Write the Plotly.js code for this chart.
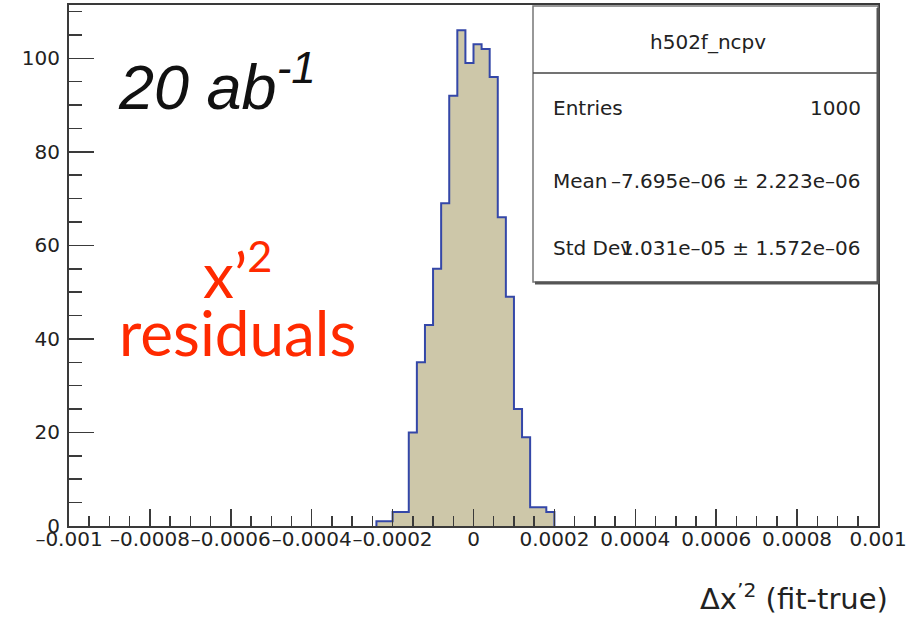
<!DOCTYPE html>
<html>
<head>
<meta charset="utf-8">
<script src="https://cdn.plot.ly/plotly-3.0.1.min.js"></script>
<style>html,body{margin:0;padding:0;background:#fff;}#chart{width:908px;height:617px;}</style>
</head>
<body>
<div id="chart"></div>
<script>
// ---- data ----
const binLowEdges = [-0.00024, -0.00022, -0.0002, -0.00018, -0.00016, -0.00014, -0.00012, -0.0001,
                     -0.00008, -0.00006, -0.00004, -0.00002, 0, 0.00002, 0.00004, 0.00006,
                     0.00008, 0.0001, 0.00012, 0.00014, 0.00016, 0.00018];
const binWidth = 0.00002;
const counts = [1, 1, 3, 3, 20, 35, 43, 55, 69, 92, 106, 99, 103, 102, 96, 66, 49, 25, 19, 4, 4, 3];

const xTickVals = [-0.001, -0.0008, -0.0006, -0.0004, -0.0002, 0, 0.0002, 0.0004, 0.0006, 0.0008, 0.001];
const xTickLabels = ["\u20130.001", "\u20130.0008", "\u20130.0006", "\u20130.0004", "\u20130.0002", "0",
                     "0.0002", "0.0004", "0.0006", "0.0008", "0.001"];
const yTickVals = [0, 20, 40, 60, 80, 100];
const yTickLabels = ["0", "20", "40", "60", "80", "100"];

const histName = "h502f_ncpv";
const statLabels = ["Entries", "Mean", "Std Dev"];
const statValues = ["1000", "\u20137.695e\u201306 \u00b1 2.223e\u201306", "1.031e\u201305 \u00b1 1.572e\u201306"];

// ---- build step outline from bins ----
const stepX = [binLowEdges[0]];
const stepY = [0];
for (let i = 0; i < counts.length; i++) { stepX.push(binLowEdges[i]); stepY.push(counts[i]); }
stepX.push(binLowEdges[binLowEdges.length - 1] + binWidth);
stepY.push(0);

// ---- layout geometry helpers (pixels -> paper) ----
const W = 908, H = 617;
const M = {l: 69, r: 30, t: 5, b: 91};
const PW = W - M.l - M.r, PH = H - M.t - M.b;
const px = v => (v - M.l) / PW;
const py = v => (H - M.b - v) / PH;

const axisCol = '#3a3a3a';
const txtCol = '#222';
const rootFont = 'DejaVu Sans, sans-serif';

const trace = {
  type: 'scatter', mode: 'lines', x: stepX, y: stepY,
  line: {shape: 'hv', color: '#3447a8', width: 2},
  fill: 'tozeroy', fillcolor: '#cdc7a9', hoverinfo: 'skip', showlegend: false
};

const shapes = [
  {type: 'rect', xref: 'paper', yref: 'paper', x0: px(533), x1: px(878), y0: py(282), y1: py(6),
   line: {color: '#777', width: 1.5}, fillcolor: '#fff', layer: 'above'},
  {type: 'line', xref: 'paper', yref: 'paper', x0: px(533), x1: px(878), y0: py(73), y1: py(73),
   line: {color: '#444', width: 1.5}, layer: 'above'},
  {type: 'line', xref: 'paper', yref: 'paper', x0: px(878), x1: px(878), y0: py(284), y1: py(8),
   line: {color: '#555', width: 3}, layer: 'above'},
  {type: 'line', xref: 'paper', yref: 'paper', x0: px(535), x1: px(878), y0: py(283), y1: py(283),
   line: {color: '#555', width: 3}, layer: 'above'}
];

const statFont = {family: rootFont, size: 20, color: txtCol};
const statY = [108, 181, 248];
const annotations = [
  {xref: 'paper', yref: 'paper', x: px(708), y: py(42), xanchor: 'center', yanchor: 'middle',
   text: histName, showarrow: false, font: statFont}
];
for (let i = 0; i < statLabels.length; i++) {
  annotations.push({xref: 'paper', yref: 'paper', x: px(551), y: py(statY[i]), xanchor: 'left', yanchor: 'middle',
    text: statLabels[i], showarrow: false, font: statFont});
  annotations.push({xref: 'paper', yref: 'paper', x: px(863), y: py(statY[i]), xanchor: 'right', yanchor: 'middle',
    text: statValues[i], showarrow: false, font: statFont});
}
annotations.push({xref: 'paper', yref: 'paper', x: px(116), y: py(82), xanchor: 'left', yanchor: 'middle',
  text: '<i>20 ab<sup>-1</sup></i>', showarrow: false,
  font: {family: 'Liberation Sans, Arial, sans-serif', size: 63, color: '#111'}});
annotations.push({xref: 'paper', yref: 'paper', x: px(237), y: py(270), xanchor: 'center', yanchor: 'middle',
  text: 'x\u2019<sup>2</sup>', showarrow: false,
  font: {family: 'Lato, sans-serif', size: 62, color: '#ff2a00'}});
annotations.push({xref: 'paper', yref: 'paper', x: px(237), y: py(332), xanchor: 'center', yanchor: 'middle',
  text: 'residuals', showarrow: false,
  font: {family: 'Lato, sans-serif', size: 62, color: '#ff2a00'}});
annotations.push({xref: 'paper', yref: 'paper', x: px(890), y: py(597), xanchor: 'right', yanchor: 'middle',
  text: '\u0394x<sup>\u20192</sup> (fit-true)', showarrow: false,
  font: {family: rootFont, size: 29, color: txtCol}});

const layout = {
  width: W, height: H,
  margin: {l: M.l, r: M.r, t: M.t, b: M.b, pad: 0},
  paper_bgcolor: '#fff', plot_bgcolor: '#fff',
  showlegend: false,
  xaxis: {
    range: [-0.001, 0.001], tickmode: 'array', tickvals: xTickVals, ticktext: xTickLabels,
    tickangle: 0,
    ticks: 'inside', ticklen: 17, tickwidth: 1.5, tickcolor: axisCol,
    showline: true, linecolor: axisCol, linewidth: 2, mirror: true,
    showgrid: false, zeroline: false, ticklabelstandoff: -6,
    tickfont: {family: rootFont, size: 20, color: txtCol},
    minor: {tick0: 0, dtick: 0.00005, ticks: 'inside', ticklen: 10, tickwidth: 1.5, tickcolor: axisCol, showgrid: false}
  },
  yaxis: {
    range: [0, 111.4], tickmode: 'array', tickvals: yTickVals, ticktext: yTickLabels,
    ticks: 'inside', ticklen: 25, tickwidth: 1.5, tickcolor: axisCol,
    showline: true, linecolor: axisCol, linewidth: 2, mirror: true,
    showgrid: false, zeroline: false, ticklabelstandoff: 3,
    tickfont: {family: rootFont, size: 20, color: txtCol},
    minor: {tick0: 0, dtick: 5, ticks: 'inside', ticklen: 13, tickwidth: 1.5, tickcolor: axisCol, showgrid: false}
  },
  shapes: shapes,
  annotations: annotations
};

Plotly.newPlot('chart', [trace], layout, {staticPlot: true, displayModeBar: false});
</script>
</body>
</html>
